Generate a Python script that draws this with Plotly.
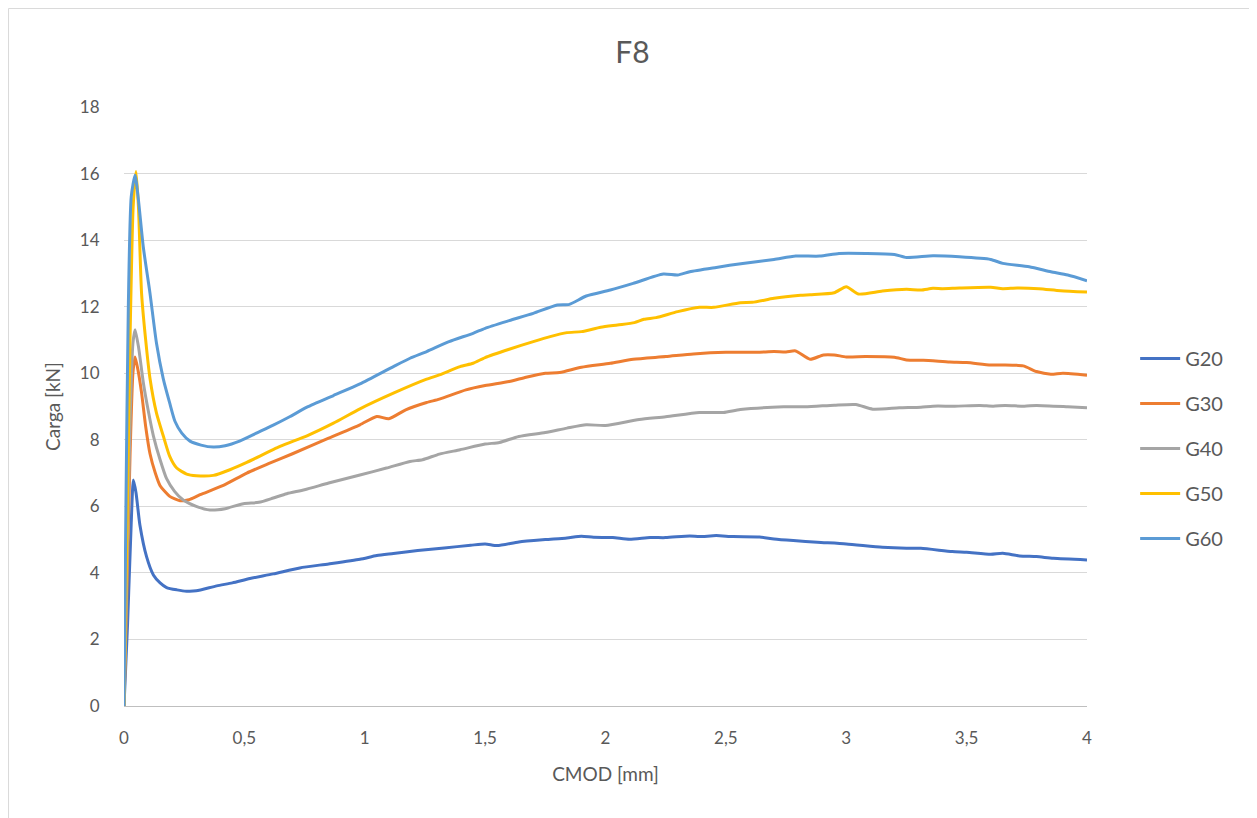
import plotly.graph_objects as go

# CMOD [mm] / Carga [kN]
g20_x = [0, 0.015, 0.03, 0.039, 0.05, 0.066, 0.094, 0.122, 0.15, 0.177, 0.22, 0.26, 0.3, 0.385, 0.45, 0.523, 0.62, 0.73, 0.85, 0.98,
         1.05, 1.119, 1.22, 1.33, 1.44, 1.5, 1.55, 1.64, 1.75, 1.84, 1.9, 1.95, 2.03, 2.1, 2.185, 2.25, 2.35, 2.39, 2.46, 2.53,
         2.64, 2.7, 2.78, 2.88, 3.0, 3.15, 3.25, 3.31, 3.44, 3.5, 3.6, 3.65, 3.72, 3.79, 3.86, 4.0]
g20_y = [0, 2.5, 5.5, 6.79, 6.4, 5.44, 4.48, 3.94, 3.7, 3.56, 3.49, 3.45, 3.46, 3.61, 3.7, 3.83, 3.97, 4.15, 4.27, 4.41,
         4.52, 4.58, 4.67, 4.75, 4.83, 4.87, 4.82, 4.93, 5.0, 5.05, 5.1, 5.07, 5.06, 5.01, 5.06, 5.06, 5.11, 5.09, 5.12, 5.09,
         5.08, 5.02, 4.97, 4.92, 4.87, 4.77, 4.74, 4.74, 4.64, 4.62, 4.56, 4.59, 4.51, 4.49, 4.44, 4.39]

g30_x = [0, 0.012, 0.025, 0.037, 0.046, 0.058, 0.073, 0.09, 0.108, 0.13, 0.15, 0.19, 0.233, 0.27, 0.316, 0.41, 0.51, 0.6, 0.7,
         0.85, 0.98, 1.05, 1.1, 1.17, 1.257, 1.31, 1.42, 1.5, 1.6, 1.67, 1.75, 1.81, 1.9, 2.02, 2.115, 2.25, 2.365, 2.5, 2.63,
         2.7, 2.75, 2.79, 2.85, 2.905, 2.95, 3.0, 3.08, 3.2, 3.25, 3.32, 3.43, 3.5, 3.6, 3.65, 3.735, 3.79, 3.85, 3.9, 4.0]
g30_y = [0, 3.5, 7.5, 10.0, 10.49, 10.1, 9.41, 8.4, 7.58, 7.0, 6.62, 6.3, 6.17, 6.2, 6.35, 6.62, 7.0, 7.28, 7.58,
         8.05, 8.45, 8.7, 8.63, 8.9, 9.12, 9.22, 9.5, 9.63, 9.75, 9.88, 10.0, 10.02, 10.18, 10.3, 10.42, 10.5, 10.58, 10.63, 10.63,
         10.65, 10.64, 10.67, 10.42, 10.55, 10.55, 10.49, 10.5, 10.48, 10.4, 10.39, 10.34, 10.32, 10.25, 10.25, 10.22, 10.05, 9.97, 10.0, 9.94]

g40_x = [0, 0.012, 0.025, 0.037, 0.046, 0.06, 0.08, 0.1, 0.122, 0.15, 0.177, 0.21, 0.246, 0.3, 0.357, 0.42, 0.496, 0.56, 0.62,
         0.676, 0.75, 0.85, 0.98, 1.09, 1.188, 1.24, 1.31, 1.396, 1.5, 1.56, 1.64, 1.75, 1.84, 1.92, 2.0, 2.14, 2.25, 2.39, 2.49,
         2.56, 2.74, 2.83, 2.95, 3.04, 3.11, 3.22, 3.31, 3.36, 3.45, 3.555, 3.61, 3.66, 3.74, 3.79, 3.92, 4.0]
g40_y = [0, 4.0, 8.5, 10.9, 11.31, 10.8, 9.73, 8.9, 8.12, 7.4, 6.83, 6.45, 6.19, 6.0, 5.89, 5.93, 6.08, 6.12, 6.25,
         6.38, 6.5, 6.7, 6.94, 7.15, 7.35, 7.4, 7.57, 7.7, 7.87, 7.92, 8.1, 8.22, 8.35, 8.45, 8.43, 8.61, 8.69, 8.82, 8.82,
         8.91, 8.99, 8.99, 9.04, 9.06, 8.92, 8.96, 8.98, 9.01, 9.01, 9.03, 9.01, 9.03, 9.01, 9.03, 8.99, 8.96]

g50_x = [0, 0.012, 0.025, 0.038, 0.05, 0.06, 0.073, 0.09, 0.108, 0.135, 0.163, 0.19, 0.219, 0.26, 0.3, 0.371, 0.44, 0.51, 0.648,
         0.76, 0.87, 0.98, 1.119, 1.257, 1.31, 1.396, 1.45, 1.5, 1.6, 1.7, 1.77, 1.84, 1.9, 1.98, 2.05, 2.12, 2.16, 2.21, 2.3,
         2.39, 2.45, 2.56, 2.61, 2.7, 2.81, 2.85, 2.95, 3.0, 3.05, 3.15, 3.25, 3.31, 3.36, 3.4, 3.47, 3.6, 3.65, 3.71, 3.8, 3.89, 4.0]
g50_y = [0, 5.0, 11.0, 15.0, 16.06, 15.0, 12.4, 11.0, 9.84, 8.8, 8.12, 7.5, 7.15, 6.97, 6.92, 6.93, 7.1, 7.32, 7.8,
         8.12, 8.5, 8.93, 9.4, 9.82, 9.95, 10.2, 10.3, 10.47, 10.72, 10.95, 11.1, 11.22, 11.25, 11.38, 11.45, 11.52, 11.62, 11.67, 11.85,
         11.98, 11.98, 12.12, 12.13, 12.25, 12.34, 12.36, 12.42, 12.6, 12.38, 12.47, 12.52, 12.5, 12.55, 12.54, 12.56, 12.58, 12.54, 12.56, 12.54, 12.48, 12.44]

g60_x = [0, 0.008, 0.018, 0.03, 0.046, 0.06, 0.08, 0.108, 0.135, 0.163, 0.19, 0.212, 0.24, 0.274, 0.32, 0.371, 0.42, 0.48, 0.55,
         0.62, 0.69, 0.76, 0.87, 0.98, 1.119, 1.188, 1.257, 1.35, 1.45, 1.5, 1.6, 1.7, 1.8, 1.85, 1.92, 2.02, 2.115, 2.24, 2.3,
         2.35, 2.46, 2.57, 2.7, 2.79, 2.89, 2.97, 3.08, 3.2, 3.25, 3.36, 3.47, 3.6, 3.65, 3.76, 3.85, 3.92, 4.0]
g60_y = [0, 6.0, 12.0, 15.3, 15.95, 15.2, 13.8, 12.4, 10.9, 9.84, 9.1, 8.55, 8.2, 7.96, 7.84, 7.78, 7.82, 7.96, 8.2,
         8.44, 8.7, 8.98, 9.33, 9.68, 10.2, 10.45, 10.65, 10.95, 11.2, 11.35, 11.58, 11.8, 12.05, 12.07, 12.32, 12.5, 12.7, 12.98, 12.95,
         13.05, 13.18, 13.3, 13.42, 13.52, 13.52, 13.6, 13.6, 13.57, 13.48, 13.53, 13.5, 13.42, 13.3, 13.2, 13.05, 12.95, 12.78]

names = ["G20", "G30", "G40", "G50", "G60"]
colours = ["#4472C4", "#ED7D31", "#A5A5A5", "#FFC000", "#5B9BD5"]
series = [(g20_x, g20_y), (g30_x, g30_y), (g40_x, g40_y), (g50_x, g50_y), (g60_x, g60_y)]

tick_vals = [0, 0.5, 1, 1.5, 2, 2.5, 3, 3.5, 4]
tick_text = ["0", "0,5", "1", "1,5", "2", "2,5", "3", "3,5", "4"]

FONT = "Lato, Calibri, sans-serif"
TXT = "#595959"

fig = go.Figure()
for name, col, (xs, ys) in zip(names, colours, series):
    fig.add_trace(go.Scatter(x=xs, y=ys, mode="lines", name=name, legendgroup=name,
                             line=dict(color=col, width=3, shape="spline", smoothing=0.6)))

# page body has an 8px margin, so the figure is a bit smaller and shifted
fig.update_layout(
    width=1249, height=810,
    template=None,
    paper_bgcolor="white", plot_bgcolor="white",
    margin=dict(l=116, r=170, t=99, b=112),
    font=dict(family=FONT, size=16, color=TXT),
    title=dict(text="F8", x=0.5, xanchor="center", y=0.945, yanchor="middle",
               font=dict(family=FONT, size=30, color=TXT)),
    xaxis=dict(range=[0, 4], tickvals=tick_vals, ticktext=tick_text, showgrid=False, zeroline=False,
               showline=True, linecolor="#BFBFBF", linewidth=1, ticks="outside", ticklen=17,
               tickcolor="rgba(0,0,0,0)",
               title=dict(text="CMOD [mm]", font=dict(size=19, color=TXT), standoff=20),
               tickfont=dict(size=17, color=TXT)),
    yaxis=dict(range=[0, 18], dtick=2, showgrid=True, gridcolor="#D9D9D9", gridwidth=1, zeroline=False,
               showline=False, ticks="outside", ticklen=20, tickcolor="rgba(0,0,0,0)",
               tickfont=dict(size=17, color=TXT),
               title=dict(text="Carga [kN]", font=dict(size=19, color=TXT), standoff=14)),
    legend=dict(x=1.05, xanchor="left", y=0.43, yanchor="middle", bgcolor="rgba(0,0,0,0)",
                font=dict(size=20, color=TXT), tracegroupgap=16, itemwidth=40),
    showlegend=True,
    shapes=[dict(type="rect", xref="paper", yref="paper", x0=-0.1199, x1=1.1755, y0=-0.2, y1=1.1645,
                 line=dict(color="#D9D9D9", width=1), layer="below")],
)

fig.write_html("out.html")
